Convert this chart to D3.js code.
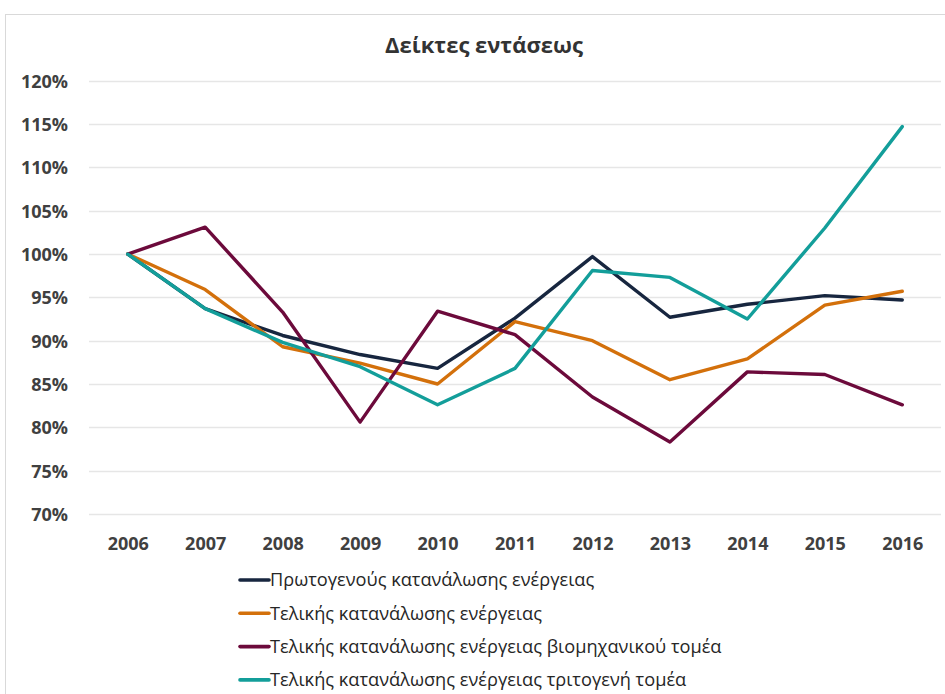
<!DOCTYPE html>
<html>
<head>
<meta charset="utf-8">
<script src="https://cdn.jsdelivr.net/npm/d3@7"></script>
<style>
  html, body { margin: 0; padding: 0; background: #fff; }
  svg { display: block; }
</style>
</head>
<body>
<svg id="chart" width="945" height="694"></svg>
<script>
const years = ["2006","2007","2008","2009","2010","2011","2012","2013","2014","2015","2016"];
const seriesNames = [
  "Πρωτογενούς κατανάλωσης ενέργειας",
  "Τελικής κατανάλωσης ενέργειας",
  "Τελικής κατανάλωσης ενέργειας βιομηχανικού τομέα",
  "Τελικής κατανάλωσης ενέργειας τριτογενή τομέα"
];
const primary   = [100, 93.7, 90.6, 88.4, 86.8, 92.6, 99.7, 92.7, 94.2, 95.2, 94.7];
const finalAll  = [100, 95.9, 89.3, 87.4, 85.0, 92.2, 90.0, 85.5, 87.9, 94.1, 95.7];
const industry  = [100, 103.1, 93.3, 80.6, 93.4, 90.7, 83.5, 78.3, 86.4, 86.1, 82.6];
const tertiary  = [100, 93.7, 89.8, 87.0, 82.6, 86.8, 98.1, 97.3, 92.5, 103.0, 114.7];
const colors = ["#17263f", "#d3700b", "#6c0a3b", "#139e9a"];
const yTicks = [70, 75, 80, 85, 90, 95, 100, 105, 110, 115, 120];
const title = "Δείκτες εντάσεως";

const allSeries = [primary, finalAll, industry, tertiary];

const svg = d3.select("#chart");

// chart border
svg.append("rect")
  .attr("x", 5.5).attr("y", 14.5)
  .attr("width", 1000).attr("height", 1000)
  .attr("fill", "#fff").attr("stroke", "#d9d9d9").attr("stroke-width", 1);

const x = d3.scalePoint().domain(years).range([89, 941]).padding(0.5);
const y = d3.scaleLinear().domain([70, 120]).range([514, 80.7]);

const font = "'Open Sans', sans-serif";

// title
svg.append("text")
  .attr("x", 484).attr("y", 53)
  .attr("text-anchor", "middle")
  .attr("font-family", font).attr("font-weight", "bold")
  .attr("font-size", 22).attr("fill", "#333333")
  .text(title);

// gridlines
svg.append("g").selectAll("line").data(yTicks).join("line")
  .attr("x1", 89).attr("x2", 941)
  .attr("y1", d => Math.round(y(d)) + 0.5).attr("y2", d => Math.round(y(d)) + 0.5)
  .attr("stroke", "#e6e6e6").attr("stroke-width", 1.3);

// y axis
const yAxis = d3.axisLeft(y).tickValues(yTicks).tickSize(0).tickPadding(0)
  .tickFormat(d => d + "%");
const gy = svg.append("g").attr("transform", "translate(68,0)").call(yAxis);
gy.select(".domain").remove();
gy.selectAll("text")
  .attr("font-family", font).attr("font-weight", "bold")
  .attr("font-size", 18).attr("fill", "#404040").attr("dy", "0.36em");

// x axis
const xAxis = d3.axisBottom(x).tickSize(0).tickPadding(0);
const gx = svg.append("g").attr("transform", "translate(0,536)").call(xAxis);
gx.select(".domain").remove();
gx.selectAll("text")
  .attr("font-family", font).attr("font-weight", "bold")
  .attr("font-size", 18).attr("fill", "#404040").attr("dy", "0.75em");

// lines
const line = d3.line().x((d, i) => x(years[i])).y(d => y(d));
svg.append("g").selectAll("path").data(allSeries).join("path")
  .attr("d", d => line(d))
  .attr("fill", "none")
  .attr("stroke", (d, i) => colors[i])
  .attr("stroke-width", 3.4)
  .attr("stroke-linejoin", "round")
  .attr("stroke-linecap", "round");

// legend
const legend = svg.append("g");
const rows = legend.selectAll("g").data(seriesNames).join("g")
  .attr("transform", (d, i) => `translate(240, ${580 + i * 33.3})`);
rows.append("line")
  .attr("x1", 0).attr("x2", 29).attr("y1", 0).attr("y2", 0)
  .attr("stroke", (d, i) => colors[i]).attr("stroke-width", 3.6)
  .attr("stroke-linecap", "round");
rows.append("text")
  .attr("x", 30).attr("y", 0).attr("dy", "0.35em")
  .attr("font-family", font).attr("font-size", 18.2).attr("font-weight", 500)
  .attr("fill", "#262626")
  .text(d => d);
</script>
</body>
</html>
